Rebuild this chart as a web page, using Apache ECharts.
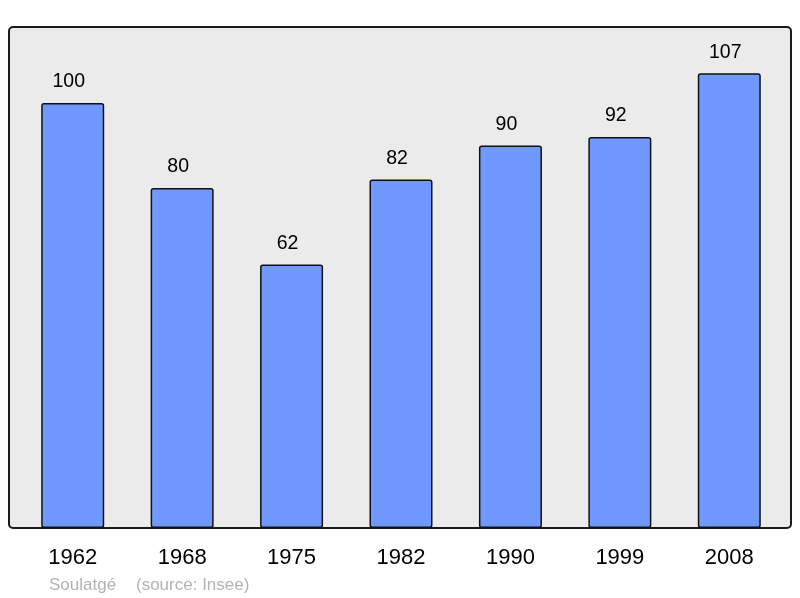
<!DOCTYPE html>
<html>
<head>
<meta charset="utf-8">
<script src="https://cdn.jsdelivr.net/npm/echarts@6/dist/echarts.min.js"></script>
<style>
  html, body { margin: 0; padding: 0; background: #fff; }
  #chart { width: 800px; height: 598px; }
</style>
</head>
<body>
<div id="chart"></div>
<script>
// années du recensement
var years = ['1962', '1968', '1975', '1982', '1990', '1999', '2008'];
// population
var population = [100, 80, 62, 82, 90, 92, 107];
var commune = 'Soulatgé';
var source = '(source: Insee)';

var myChart = echarts.init(document.getElementById('chart'));

var option = {
    animation: false,
    backgroundColor: '#fff',
    textStyle: { fontFamily: 'Liberation Sans, Arial, sans-serif' },
    title: [
        {
            text: commune,
            left: 49, top: 577, padding: 0,
            textStyle: { color: '#b3b3b3', fontSize: 17, fontWeight: 'normal' }
        },
        {
            text: source,
            left: 136, top: 577, padding: 0,
            textStyle: { color: '#b3b3b3', fontSize: 17, fontWeight: 'normal' }
        }
    ],
    //cadre gris
    graphic: [{
        type: 'rect',
        z: -10,
        shape: { x: 9, y: 27, width: 782, height: 501, r: 4 },
        style: { fill: '#ebebeb', stroke: '#1a1a1a', lineWidth: 2 }
    }],
    grid: { left: 18, right: 16, top: 27, bottom: 70 },
    xAxis: {
        type: 'category',
        data: years,
        axisLine: { show: false },
        axisTick: { show: false },
        axisLabel: { color: '#000', fontSize: 22, margin: 19 }
    },
    yAxis: {
        type: 'value',
        min: 0,
        max: 117.9,
        show: false,
        splitLine: { show: false }
    },
    series: [{
        type: 'bar',
        data: population,
        barWidth: 63,
        itemStyle: {
            color: '#7099ff',
            borderColor: '#111',
            borderWidth: 1.5,
            borderRadius: 2
        },
        label: {
            show: true,
            position: 'top',
            distance: 11,
            offset: [-4, 0],
            color: '#000',
            fontSize: 19.5
        }
    }]
};
myChart.setOption(option);
</script>
</body>
</html>
